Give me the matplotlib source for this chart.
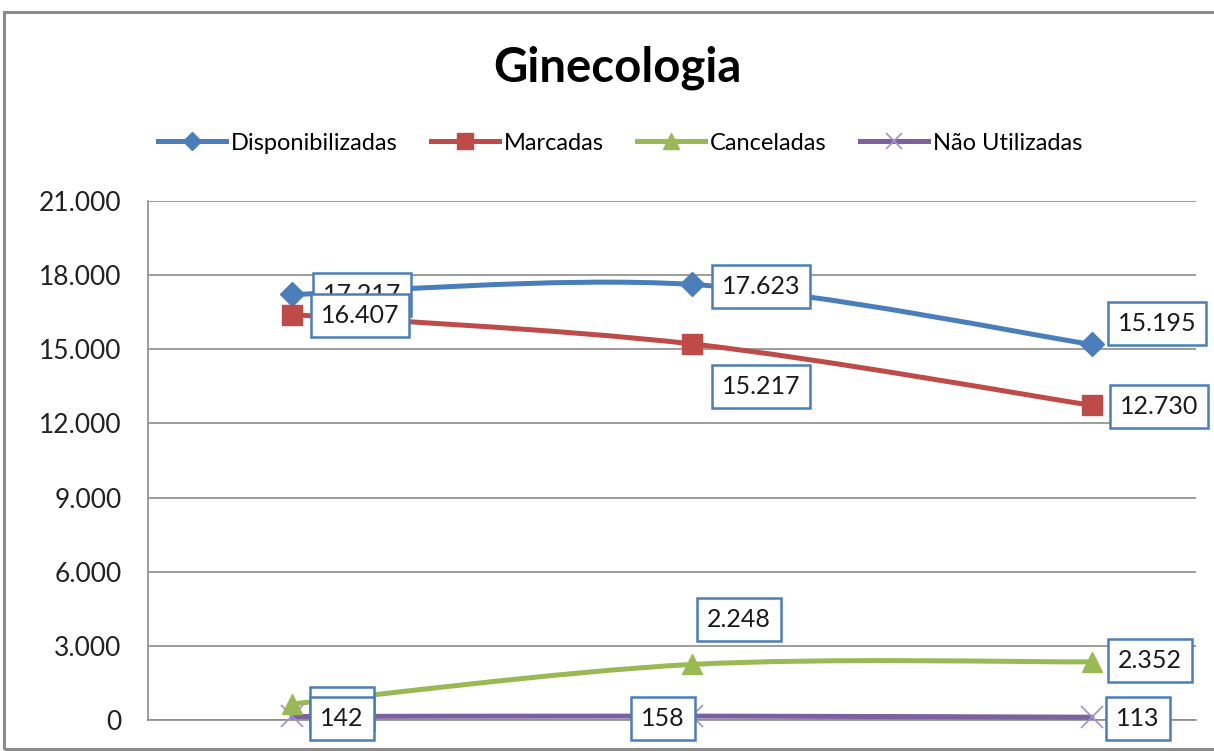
import numpy as np
import matplotlib.pyplot as plt
from matplotlib.path import Path
from matplotlib.patches import PathPatch, Rectangle
from matplotlib.ticker import FuncFormatter

plt.rcParams['font.family'] = ['Lato', 'DejaVu Sans']

# Monthly totals for the Ginecologia clinic
periods = [0, 1, 2]
disponibilizadas = [17217, 17623, 15195]
marcadas = [16407, 15217, 12730]
canceladas = [650, 2248, 2352]
nao_utilizadas = [142, 158, 113]

series_names = ["Disponibilizadas", "Marcadas", "Canceladas", "Não Utilizadas"]
series_values = [disponibilizadas, marcadas, canceladas, nao_utilizadas]

colors = ["#4A7EBB", "#BE4B48", "#98B954", "#7D60A0"]
markers = ["D", "s", "^", "x"]
marker_sizes = [12, 14, 14, 16]

# label box offsets (pixels from the point) for each series
label_offsets = [
    [(70, 0), (69, -2), (65, 21)],
    [(68, -1), (69, -43), (67, -1)],
    [(50, -5), (47, 45), (58, 1)],
    [(50, -2), (-29, -2), (46, -1)],
]
label_zorders = [6, 6.5, 6.2, 7]


def smooth_path(xs, ys):
    # Catmull-Rom style bezier through the points, like a smoothed office line
    pts = np.column_stack([xs, ys]).astype(float)
    ext = np.vstack([pts[0], pts, pts[-1]])
    verts = [pts[0]]
    codes = [Path.MOVETO]
    for i in range(len(pts) - 1):
        p0, p1, p2, p3 = ext[i], ext[i + 1], ext[i + 2], ext[i + 3]
        c1 = p1 + (p2 - p0) / 6.0
        c2 = p2 - (p3 - p1) / 6.0
        verts += [c1, c2, p2]
        codes += [Path.CURVE4] * 3
    return Path(verts, codes)


fig = plt.figure(figsize=(12.14, 7.51), dpi=100)

# chart area frame
fig.patches.append(Rectangle((4 / 1214, 2 / 751), 1.2, 737 / 751, transform=fig.transFigure,
                             facecolor="none", edgecolor="#8C8C8C", linewidth=2.2, zorder=-1))

ax = fig.add_axes([148 / 1214, 1 - 720 / 751, (1196 - 148) / 1214, (720 - 201) / 751])
ax.set_facecolor("none")

ax.set_ylim(0, 21000)
ax.set_xlim(-(292 - 148) / 400, (1196 - 292) / 400)
ax.set_yticks(np.arange(0, 21001, 3000))
ax.yaxis.set_major_formatter(FuncFormatter(lambda v, p: f"{int(v):,}".replace(",", ".")))
ax.tick_params(axis="y", length=0, pad=19, labelsize=19, labelcolor="#222222")
ax.set_xticks([])
ax.grid(axis="y", color="#8C8C8C", linewidth=1.2)
ax.set_axisbelow(True)
for side in ["top", "right"]:
    ax.spines[side].set_visible(False)
for side in ["left", "bottom"]:
    ax.spines[side].set_color("#8C8C8C")
    ax.spines[side].set_linewidth(1.2)

handles = []
for k, (name, vals) in enumerate(zip(series_names, series_values)):
    lw = 3.6
    ax.add_patch(PathPatch(smooth_path(periods, vals), facecolor="none", edgecolor=colors[k],
                           linewidth=lw, zorder=3 + k * 0.1, capstyle="round"))
    if markers[k] == "x":
        ax.plot(periods, vals, linestyle="none", marker="x", markersize=marker_sizes[k],
                markeredgewidth=1.2, color="#A58FD0", zorder=3.5, clip_on=False)
        h, = ax.plot([], [], color=colors[k], linewidth=lw, marker="x", markersize=12,
                     markeredgewidth=1.2, markeredgecolor="#A58FD0")
    else:
        ax.plot(periods, vals, linestyle="none", marker=markers[k], markersize=marker_sizes[k],
                color=colors[k], zorder=3.5 + k * 0.1, clip_on=False)
        h, = ax.plot([], [], color=colors[k], linewidth=lw, marker=markers[k],
                     markersize=marker_sizes[k] - 3)
    handles.append(h)

# value labels in boxed tags
for k, vals in enumerate(series_values):
    for i, v in enumerate(vals):
        dx, dy = label_offsets[k][i]
        ax.annotate(f"{v:,}".replace(",", "."), (periods[i], v), xytext=(dx, dy),
                    textcoords="offset pixels", ha="center", va="center", fontsize=18,
                    color="#1A1A1A", zorder=label_zorders[k], annotation_clip=False,
                    bbox=dict(boxstyle="square,pad=0.4", facecolor="white",
                              edgecolor="#4A7EBB", linewidth=1.8))

fig.text(617 / 1214, 1 - 68 / 751, "Ginecologia", ha="center", va="center",
         fontsize=34, fontweight="bold", color="black")

fig.legend(handles, series_names, loc="center", bbox_to_anchor=(620 / 1214, 1 - 143 / 751),
           ncol=4, frameon=False, fontsize=17, handlelength=2.9, handletextpad=0.2,
           columnspacing=1.4)

fig.savefig("out.png", dpi=100)
